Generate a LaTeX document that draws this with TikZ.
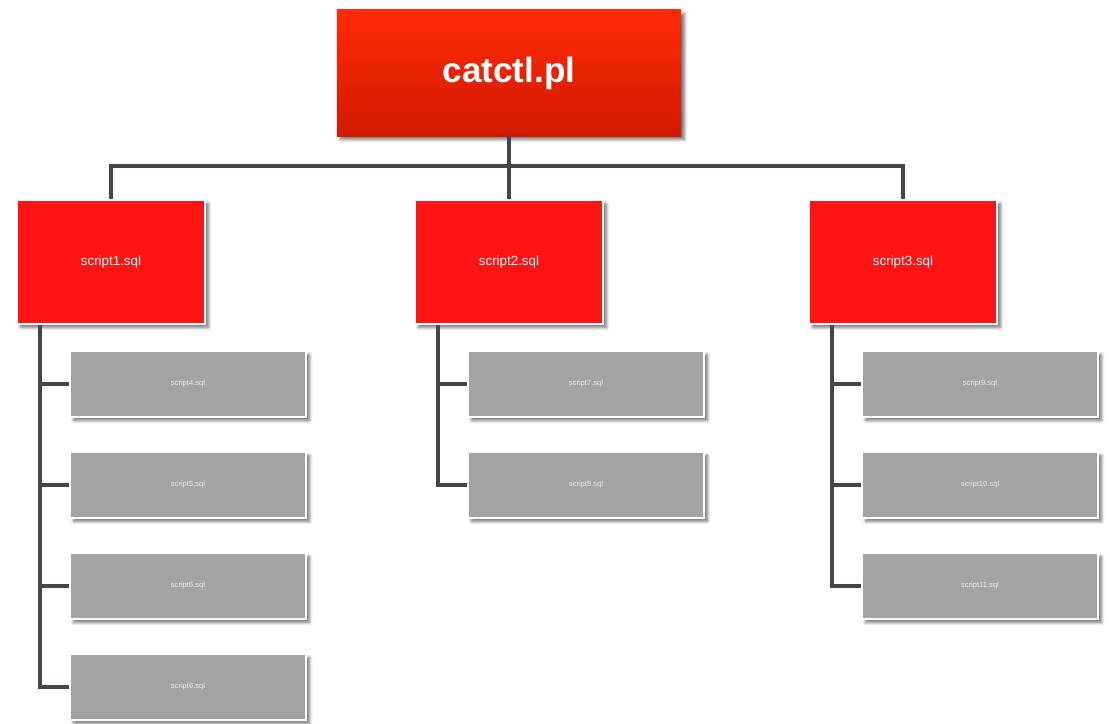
\documentclass[tikz,border=0pt]{standalone}
\usepackage{fontspec}
\setmainfont{Liberation Sans}
\usetikzlibrary{shadows.blur}
\definecolor{topred}{HTML}{FF2A06}
\definecolor{botred}{HTML}{D21A00}
\definecolor{boxred}{HTML}{FF1414}
\definecolor{boxgray}{HTML}{A3A3A3}
\definecolor{conngray}{HTML}{43474A}
\tikzset{
  mainbox/.style={minimum width=8.6cm,minimum height=3.15cm,top color=topred,bottom color=botred,
    text=white,font=\fontsize{25}{30}\selectfont\bfseries,
    blur shadow={shadow xshift=2.5pt,shadow yshift=-2.5pt,shadow blur steps=6,shadow opacity=55}},
  redbox/.style={minimum width=4.7cm,minimum height=3.1cm,fill=boxred,draw=white,line width=1.6pt,
    text=white,font=\fontsize{9.5}{11}\selectfont,
    blur shadow={shadow xshift=2.5pt,shadow yshift=-2.5pt,shadow blur steps=6,shadow opacity=55}},
  graybox/.style={minimum width=5.9cm,minimum height=1.65cm,fill=boxgray,draw=white,line width=1.6pt,
    text=white!92!black,font=\fontsize{5.4}{6}\selectfont,
    blur shadow={shadow xshift=2.5pt,shadow yshift=-2.5pt,shadow blur steps=6,shadow opacity=55}},
  conn/.style={draw=conngray,line width=2.8pt}
}
\begin{document}
\begin{tikzpicture}[x=0.025cm,y=-0.025cm]
  \useasboundingbox (0,0) rectangle (1110,723);
  \coordinate (bar) at (509,166);
  \node[mainbox] (top) at (509,73) {catctl.pl};
  \node[redbox] (s1) at (111,262) {script1.sql};
  \node[redbox] (s2) at (509,262) {script2.sql};
  \node[redbox] (s3) at (903,262) {script3.sql};
  % second level
  \foreach \n/\y/\t in {g4/384/script4.sql,g5/485/script5.sql,g6/586/script6.sql,g7/687/script6.sql}
    \node[graybox] (\n) at (188,\y) {\t};
  \foreach \n/\y/\t in {g8/384/script7.sql,g9/485/script8.sql}
    \node[graybox] (\n) at (586,\y) {\t};
  \foreach \n/\y/\t in {g10/384/script9.sql,g11/485/script10.sql,g12/586/script11.sql}
    \node[graybox] (\n) at (980,\y) {\t};
  % connectors
  \draw[conn] (top.south) -- (s2.north);
  \draw[conn] (s1.north) |- (bar) -| (s3.north);
  \foreach \g in {g4,g5,g6,g7}
    \draw[conn] ([xshift=0.6cm]s1.south west) |- (\g.west);
  \foreach \g in {g8,g9}
    \draw[conn] ([xshift=0.6cm]s2.south west) |- (\g.west);
  \foreach \g in {g10,g11,g12}
    \draw[conn] ([xshift=0.6cm]s3.south west) |- (\g.west);
\end{tikzpicture}
\end{document}
